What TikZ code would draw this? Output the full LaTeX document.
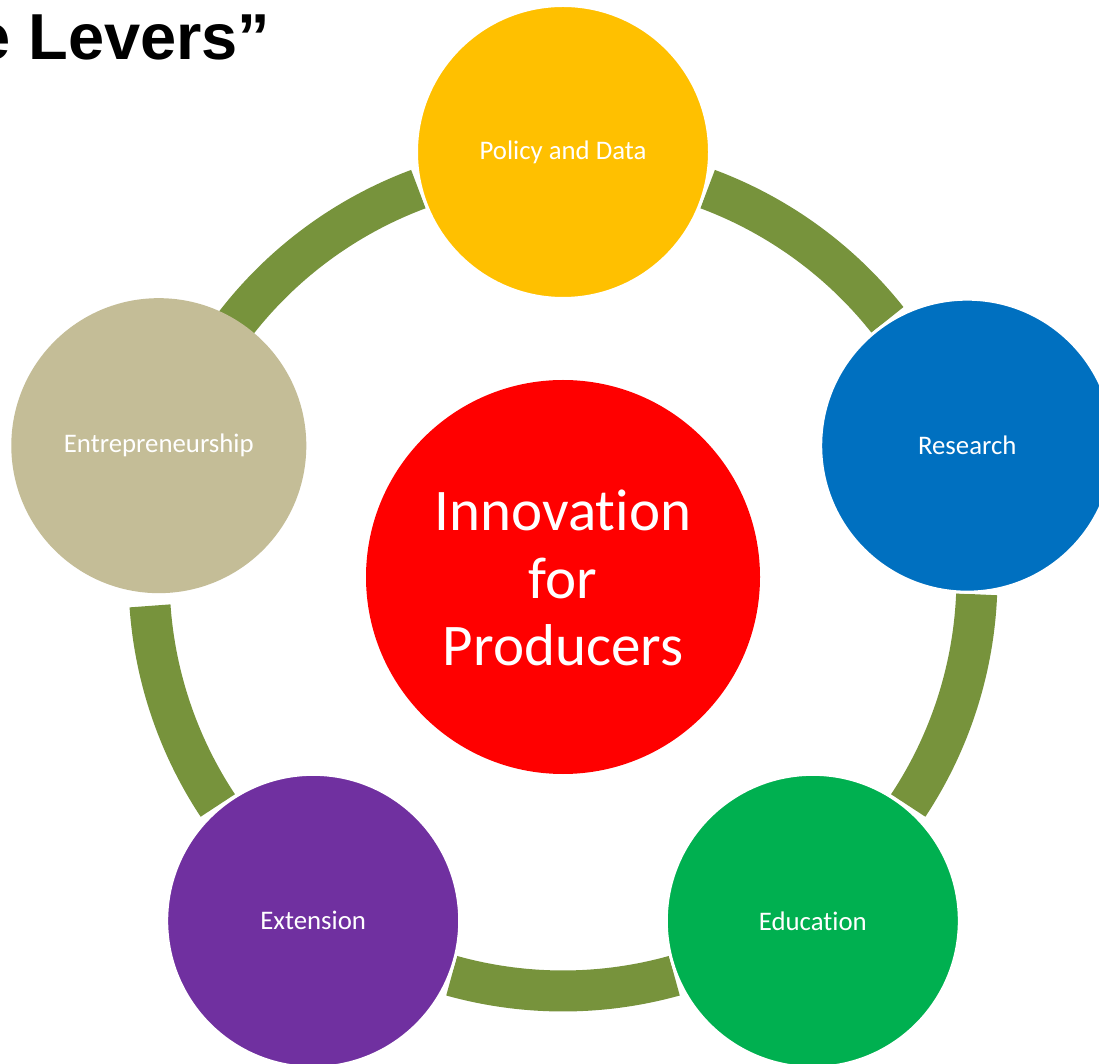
\documentclass[tikz,border=0pt]{standalone}
\usepackage{fontspec}
\usetikzlibrary{calc}
\newfontfamily\carlito{Carlito}[Ligatures=NoCommon]
\newfontfamily\arialf{Liberation Sans}
\definecolor{ringgreen}{HTML}{77933C}
\definecolor{polcol}{HTML}{FFC000}
\definecolor{rescol}{HTML}{0070C0}
\definecolor{educol}{HTML}{00B050}
\definecolor{extcol}{HTML}{7030A0}
\definecolor{entcol}{HTML}{C4BD97}
\definecolor{innocol}{HTML}{FF0000}
\tikzset{
  ring/.style={draw=ringgreen, line width=41pt, line cap=butt},
  lever/.style={circle, minimum size=293pt, inner sep=0pt, draw=white, line width=3pt,
    text=white, font=\carlito\fontsize{26.8}{31}\selectfont},
  hub/.style={circle, minimum size=394pt, inner sep=0pt, fill=innocol},
  hubtext/.style={text=white, align=center, inner sep=0pt,
    font=\carlito\fontsize{59}{67.5}\selectfont},
  titletext/.style={anchor=base west, inner sep=0pt,
    font=\arialf\bfseries\fontsize{65}{70}\selectfont}
}
\begin{document}
\begin{tikzpicture}[x=1pt, y=1pt]
\useasboundingbox (0,0) rectangle (1099,1063);
\fill[white] (0,0) rectangle (1099,1063);
\coordinate (O) at (563,486);
% arc end points
\coordinate (a1s) at ($(O)+(69.55:414pt)$);
\coordinate (a2s) at ($(O)+(-2.4:414pt)$);
\coordinate (a3s) at ($(O)+(-74.4:414pt)$);
\coordinate (a4s) at ($(O)+(-146.5:414pt)$);
\coordinate (a5s) at ($(O)+(143:414pt)$);
% ring arcs
\draw[ring] (a1s) arc[start angle=69.55, end angle=38.4, radius=414pt];
\draw[ring] (a2s) arc[start angle=-2.4, end angle=-33.5, radius=414pt];
\draw[ring] (a3s) arc[start angle=-74.4, end angle=-105.6, radius=414pt];
\draw[ring] (a4s) arc[start angle=-146.5, end angle=-176, radius=414pt];
\draw[ring] (a5s) arc[start angle=143, end angle=110.45, radius=414pt];
% lever circles
\node[lever, fill=polcol] (pol) at ($(O)+(90:425pt)$) {Policy and Data};
\node[lever, fill=rescol] (res) at ($(O)+(18:425pt)$) {Research};
\node[lever, fill=educol] (edu) at ($(O)+(-54:425pt)$) {Education};
\node[lever, fill=extcol] (ext) at ($(O)+(-126:425pt)$) {Extension};
\node[lever, fill=entcol, draw=none, minimum size=295pt] (ent) at ($(O)+(162:425pt)$) {Entrepreneurship};
% hub
\node[hub] (hub) at (O) {};
\node[hubtext] (hubt) at ([yshift=-1pt]O) {Innovation\\for\\Producers};
% title
\node[titletext] (title) at (-26,1003) {e Levers”};
\end{tikzpicture}
\end{document}
